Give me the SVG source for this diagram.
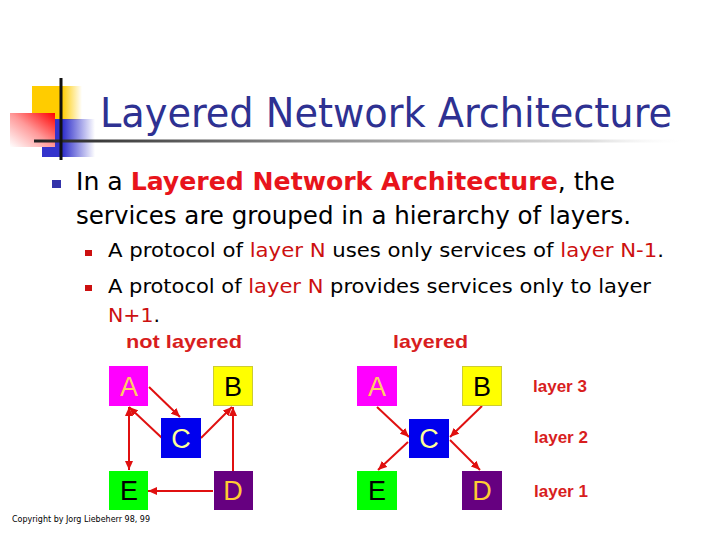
<svg xmlns="http://www.w3.org/2000/svg" width="720" height="540" viewBox="0 0 720 540">
<defs>
<linearGradient id="gy" x1="0" y1="0" x2="1" y2="0"><stop offset="0" stop-color="#FFCC00"/><stop offset="0.6" stop-color="#FFCC00"/><stop offset="1" stop-color="#FFCC00" stop-opacity="0"/></linearGradient>
<linearGradient id="gb" x1="0" y1="0" x2="1" y2="0"><stop offset="0" stop-color="#3333CC"/><stop offset="0.4" stop-color="#3333CC"/><stop offset="1" stop-color="#3333CC" stop-opacity="0"/></linearGradient>
<linearGradient id="gr" x1="0" y1="1" x2="1" y2="0"><stop offset="0" stop-color="#FFFFFF"/><stop offset="0.5" stop-color="#FF9999"/><stop offset="1" stop-color="#FF0000"/></linearGradient>
<linearGradient id="gl" x1="34" y1="0" x2="690" y2="0" gradientUnits="userSpaceOnUse"><stop offset="0" stop-color="#222222"/><stop offset="0.4" stop-color="#888888"/><stop offset="0.85" stop-color="#DDDDDD"/><stop offset="1" stop-color="#FFFFFF" stop-opacity="0"/></linearGradient>
<marker id="ah" markerWidth="9" markerHeight="8" refX="9" refY="4" orient="auto-start-reverse" markerUnits="userSpaceOnUse"><path d="M0,0 L9,4 L0,8 z" fill="#E01010"/></marker>
<style>
.t{font-family:"DejaVu Sans Condensed","DejaVu Sans","Liberation Sans",sans-serif}
.title{font-size:41px;fill:#2E3192}
.body{font-size:24px;fill:#000}
.sub{font-size:20px;fill:#000}
.hb{fill:#E8141B;font-weight:bold}
.hr{fill:#CC1010}
.lab{font-family:"Liberation Sans",Arial,sans-serif;font-weight:bold;fill:#D81E1E}
.node{font-family:"Liberation Sans",Arial,sans-serif;font-size:27px;text-anchor:middle}
.arr{stroke:#E01010;stroke-width:2;fill:none;marker-end:url(#ah)}
.arr2{stroke:#E01010;stroke-width:2;fill:none;marker-end:url(#ah);marker-start:url(#ah)}
</style>
</defs>
<rect width="720" height="540" fill="#FFFFFF"/>
<g id="decor">
<rect x="32" y="86" width="50" height="34" fill="url(#gy)"/>
<rect x="42" y="119" width="53" height="38" fill="url(#gb)"/>
<rect x="10" y="113" width="45" height="34" fill="url(#gr)"/>
<rect x="34" y="139.5" width="656" height="3" fill="url(#gl)"/>
<rect x="59.5" y="78" width="3" height="82" fill="#111111"/>
</g>
<text class="t title" x="100" y="127" textLength="572" lengthAdjust="spacingAndGlyphs">Layered Network Architecture</text>
<g id="bullets">
<rect x="52" y="180" width="9" height="8" fill="#3333AA"/>
<text class="t body" x="76" y="190" textLength="539" lengthAdjust="spacingAndGlyphs">In a <tspan class="hb">Layered Network Architecture</tspan>, the</text>
<text class="t body" x="76" y="224" textLength="555" lengthAdjust="spacingAndGlyphs">services are grouped in a hierarchy of layers.</text>
<rect x="85" y="250" width="7" height="6" fill="#CC1010"/>
<text class="t sub" x="108" y="257" textLength="556" lengthAdjust="spacingAndGlyphs">A protocol of <tspan class="hr">layer N</tspan> uses only services of <tspan class="hr">layer N-1</tspan>.</text>
<rect x="85" y="285" width="7" height="6" fill="#CC1010"/>
<text class="t sub" x="108" y="293" textLength="543" lengthAdjust="spacingAndGlyphs">A protocol of <tspan class="hr">layer N</tspan> provides services only to layer</text>
<text class="t sub" x="108" y="322" textLength="52" lengthAdjust="spacingAndGlyphs"><tspan class="hr">N+1</tspan>.</text>
</g>
<text class="lab" x="126" y="348" font-size="19" textLength="116" lengthAdjust="spacingAndGlyphs">not layered</text>
<text class="lab" x="393" y="348" font-size="19" textLength="75" lengthAdjust="spacingAndGlyphs">layered</text>
<text class="lab" x="533" y="392" font-size="17">layer 3</text>
<text class="lab" x="534" y="443" font-size="17">layer 2</text>
<text class="lab" x="534" y="497" font-size="17">layer 1</text>
<g id="connectors">
<line class="arr" x1="149" y1="387" x2="180" y2="417"/>
<line class="arr" x1="162" y1="438" x2="129" y2="407"/>
<line class="arr2" x1="129" y1="407" x2="129" y2="470"/>
<line class="arr" x1="201" y1="438" x2="232" y2="407"/>
<line class="arr" x1="233" y1="471" x2="233" y2="407"/>
<line class="arr" x1="213" y1="491" x2="148" y2="491"/>
<line class="arr" x1="377" y1="407" x2="409" y2="437"/>
<line class="arr" x1="482" y1="406" x2="450" y2="437"/>
<line class="arr" x1="408" y1="442" x2="378" y2="470"/>
<line class="arr" x1="450" y1="440" x2="480" y2="470"/>
</g>
<g id="nl-A"><rect x="109" y="366" width="39" height="40" fill="#FF00FF"/><text class="node" x="129" y="396" fill="#FFCC66">A</text></g>
<g id="nl-B"><rect x="213.5" y="366.5" width="39" height="39" fill="#FFFF00" stroke="#CCCC33"/><text class="node" x="233" y="396" fill="#000">B</text></g>
<g id="nl-C"><rect x="161" y="418" width="40" height="40" fill="#0000EE"/><text class="node" x="181" y="448" fill="#FFFF99">C</text></g>
<g id="nl-E"><rect x="109" y="471" width="39" height="39" fill="#00FF00"/><text class="node" x="129" y="500" fill="#000">E</text></g>
<g id="nl-D"><rect x="214" y="471" width="39" height="39" fill="#660080"/><text class="node" x="233" y="500" fill="#FFCC33">D</text></g>
<g id="l-A"><rect x="357" y="366" width="40" height="40" fill="#FF00FF"/><text class="node" x="377" y="396" fill="#FFCC66">A</text></g>
<g id="l-B"><rect x="462.5" y="366.5" width="39" height="39" fill="#FFFF00" stroke="#CCCC33"/><text class="node" x="482" y="396" fill="#000">B</text></g>
<g id="l-C"><rect x="409" y="419" width="40" height="39" fill="#0000EE"/><text class="node" x="429" y="448" fill="#FFFF99">C</text></g>
<g id="l-E"><rect x="357" y="471" width="40" height="39" fill="#00FF00"/><text class="node" x="377" y="500" fill="#000">E</text></g>
<g id="l-D"><rect x="462" y="471" width="40" height="39" fill="#660080"/><text class="node" x="482" y="500" fill="#FFCC33">D</text></g>
<text class="t" x="12" y="522" font-size="8" fill="#000" textLength="138" lengthAdjust="spacingAndGlyphs">Copyright by Jorg Liebeherr 98, 99</text>
</svg>
